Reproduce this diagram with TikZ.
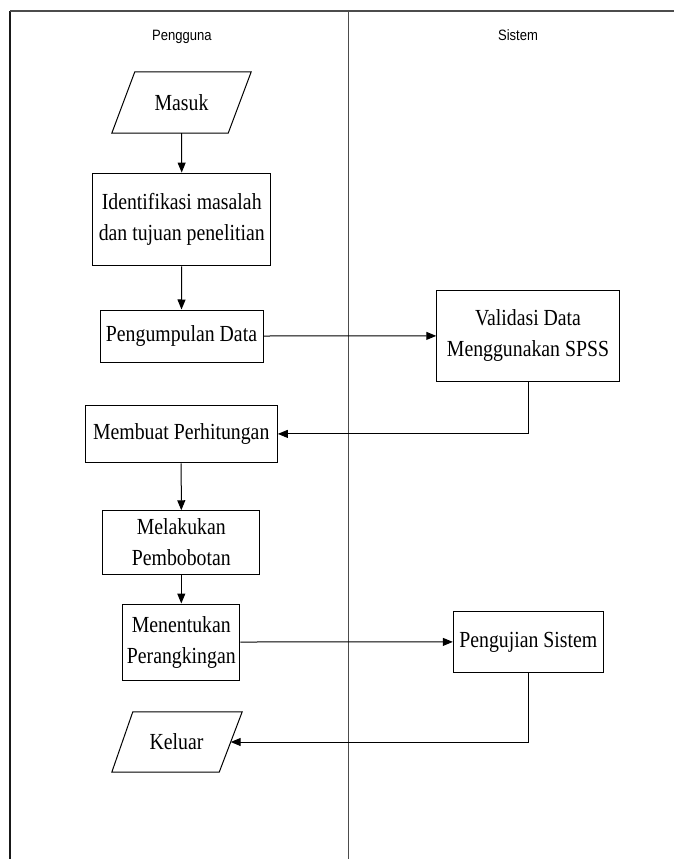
\documentclass[tikz,border=0pt]{standalone}
\usepackage{fontspec}
\setmainfont[FakeStretch=0.86]{Liberation Serif}
\newfontfamily\hdrfont[FakeStretch=0.87]{Liberation Sans}
\usetikzlibrary{arrows.meta,calc}
\begin{document}
\begin{tikzpicture}[x=1pt,y=-1pt,
  boxtxt/.style={inner sep=0pt, align=center, font=\fontsize{23}{31}\selectfont},
  procbox/.style={boxtxt, draw, line width=1pt},
  iobox/.style={boxtxt},
  flow/.style={line width=1pt, -{Triangle[length=10pt,width=8pt]}},
  hdr/.style={anchor=base, font=\hdrfont\fontsize{15}{17}\selectfont},
  lanegrey/.style={line width=1.4pt, draw=black!70},
  laneblack/.style={line width=1.4pt, draw=black!90}
]
\useasboundingbox (0,0) rectangle (674,859);

% swimlane frame
\draw[laneblack] (10,859) -- (10,11);
\draw[lanegrey] (10,11) -- (674,11);
\draw[lanegrey] (348.5,11) -- (348.5,859);

\node[hdr] (hpeng) at (182,40.7) {Pengguna};
\node[hdr] (hsis) at (518,40.7) {Sistem};

% nodes
\node[iobox, minimum width=116pt, minimum height=61pt] (masuk) at (181.5,102.5) {Masuk};
\draw[line width=1pt] ($(masuk.south west)+(-11.5,0)$) -- ($(masuk.south east)+(-11.5,0)$)
  -- ($(masuk.north east)+(11.5,0)$) -- ($(masuk.north west)+(11.5,0)$) -- cycle;

\node[procbox, minimum width=178pt, minimum height=92.7pt] (ident) at (181.7,219.4)
  {Identifikasi masalah\\dan tujuan penelitian};
\node[procbox, minimum width=163pt, minimum height=52pt] (kump) at (181.5,336) {Pengumpulan Data};
\node[procbox, minimum width=182.5pt, minimum height=91.7pt] (valid) at (528,335.9)
  {Validasi Data\\Menggunakan SPSS};
\node[procbox, minimum width=192.3pt, minimum height=57.7pt] (buat) at (181.2,433.9) {Membuat Perhitungan};
\node[procbox, minimum width=157.3pt, minimum height=63.3pt] (lakukan) at (181.3,542.4)
  {Melakukan\\Pembobotan};
\node[procbox, minimum width=117.3pt, minimum height=76pt] (tentu) at (181.3,642)
  {Menentukan\\Perangkingan};
\node[procbox, minimum width=150pt, minimum height=60.3pt] (uji) at (528.3,641.9) {Pengujian Sistem};

\node[iobox, minimum width=108pt, minimum height=60pt] (keluar) at (176.5,742) {Keluar};
\draw[line width=1pt] ($(keluar.south west)+(-10.5,0)$) -- ($(keluar.south east)+(-11.5,0)$)
  -- ($(keluar.north east)+(11.5,0)$) -- ($(keluar.north west)+(10.5,0)$) -- cycle;

% connectors
\draw[flow] (masuk.south) -- (ident.north);
\draw[flow] (ident.south) -- (kump.north);
\draw[flow] (kump.east) -- (valid.west);
\draw[flow] (valid.south) |- (buat.east);
\draw[flow] (buat.south) -- (lakukan.north);
\draw[flow] (lakukan.south) -- (tentu.north);
\draw[flow] (tentu.east) -- (uji.west);
\draw[flow] (uji.south) |- (keluar.east);
\end{tikzpicture}
\end{document}
